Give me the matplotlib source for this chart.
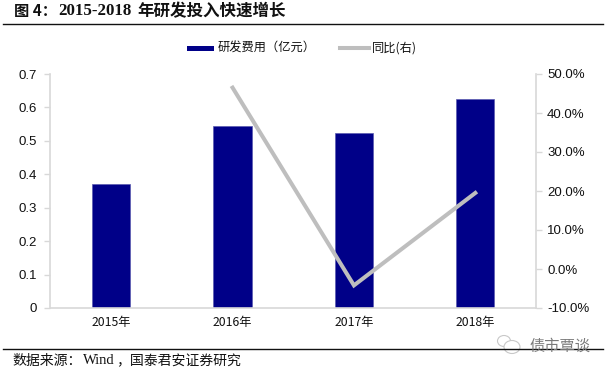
import matplotlib
matplotlib.use("Agg")
import matplotlib.pyplot as plt
from matplotlib.patches import Ellipse
from matplotlib.lines import Line2D

categories = ["2015年", "2016年", "2017年", "2018年"]
expense = [0.372, 0.545, 0.523, 0.625]
yoy = [None, 46.5, -4.2, 19.5]
left_ticks = [0, 0.1, 0.2, 0.3, 0.4, 0.5, 0.6, 0.7]
left_labels = ["0", "0.1", "0.2", "0.3", "0.4", "0.5", "0.6", "0.7"]
right_ticks = [-10, 0, 10, 20, 30, 40, 50]
right_labels = ["-10.0%", "0.0%", "10.0%", "20.0%", "30.0%", "40.0%", "50.0%"]
title_prefix = "图 4："
title_years = "2015-2018"
title_rest = "年研发投入快速增长"
source_a = "数据来源："
source_b = "Wind"
source_c = "，国泰君安证券研究"
legend_bar = "研发费用（亿元）"
legend_line = "同比(右)"
watermark = "债市覃谈"

CJK = ["Noto Sans CJK SC", "DejaVu Sans"]
plt.rcParams["font.family"] = CJK
W, H = 607, 372
fig = plt.figure(figsize=(W / 100, H / 100), dpi=100, facecolor="white")

def fx(p): return p / W
def fy(p): return 1 - p / H

L, R, T, B = 50.5, 536, 74, 308
ax = fig.add_axes([fx(L), fy(B), (R - L) / W, (B - T) / H])
x = list(range(len(categories)))
ax.bar(x, expense, width=0.315, color="#000088", edgecolor="#5A5AB0", linewidth=0.5, zorder=2)
ax.set_xlim(-0.5, 3.5)
ax.set_ylim(0, 0.7)
ax.set_yticks(left_ticks, left_labels, fontsize=9.5, family="Liberation Sans", color="#111111")
ax.set_xticks(x, categories, fontsize=8.8, color="#111111")
ax.tick_params(axis="y", length=4, width=1, color="#D8D8D8", pad=6, direction="out")
ax.tick_params(axis="x", length=0, pad=6)
for s in ["top", "right"]:
    ax.spines[s].set_visible(False)
for s in ["left", "bottom"]:
    ax.spines[s].set_color("#D8D8D8")
    ax.spines[s].set_linewidth(1.2)

ax2 = ax.twinx()
ax2.set_ylim(-10, 50)
ax2.plot(x[1:], yoy[1:], color="#BEBEBE", linewidth=2.9, solid_joinstyle="miter", zorder=3)
ax2.set_yticks(right_ticks, right_labels, fontsize=9.5, family="Liberation Sans", color="#111111")
ax2.tick_params(axis="y", length=4, width=1, color="#D8D8D8", pad=4, direction="out")
for s in ["top", "left", "bottom"]:
    ax2.spines[s].set_visible(False)
ax2.spines["right"].set_color("#D8D8D8")
ax2.spines["right"].set_linewidth(1.2)

# Title and rules
fig.text(fx(14), fy(11), title_prefix, fontsize=11, fontweight="bold", va="center", ha="left", color="#111111")
fig.text(fx(58), fy(11), title_years, fontsize=12.2, fontweight="bold", va="center", ha="left",
         family="Liberation Serif", color="#111111")
fig.text(fx(137), fy(11), title_rest, fontsize=11.9, fontweight="bold", va="center", ha="left", color="#111111")
fig.add_artist(Line2D([fx(3), fx(603)], [fy(23.5), fy(23.5)], color="#111111", lw=1.0))
fig.add_artist(Line2D([fx(3), fx(603)], [fy(348.5), fy(348.5)], color="#111111", lw=1.0))
fig.text(fx(12), fy(361), source_a, fontsize=10, va="center", ha="left", color="#111111")
fig.text(fx(83), fy(361), source_b, fontsize=10.5, va="center", ha="left", family="Liberation Serif", color="#111111")
fig.text(fx(116), fy(361), source_c, fontsize=10, va="center", ha="left", color="#111111")

# Legend
fig.patches.append(plt.Rectangle((fx(187), fy(51)), 27 / W, 5.5 / H, transform=fig.transFigure,
                                 facecolor="#000088", edgecolor="none"))
fig.text(fx(218), fy(48), legend_bar, fontsize=8.8, va="center", ha="left", color="#111111")
fig.add_artist(Line2D([fx(340), fx(369)], [fy(48), fy(48)], color="#BEBEBE", lw=2.9))
fig.text(fx(372), fy(48), legend_line, fontsize=8.8, va="center", ha="left", color="#111111")

# Watermark
fig.patches.append(Ellipse((fx(504), fy(341)), 13 / W, 11 / H, transform=fig.transFigure,
                           facecolor="white", edgecolor="#C8C8C8", lw=0.8))
fig.patches.append(Ellipse((fx(512), fy(347)), 16 / W, 13 / H, transform=fig.transFigure,
                           facecolor="white", edgecolor="#C8C8C8", lw=0.8))
fig.text(fx(529), fy(346), watermark, fontsize=11, va="center", ha="left", color="#7A7A7A")

fig.savefig("out.png", dpi=100, facecolor="white")
